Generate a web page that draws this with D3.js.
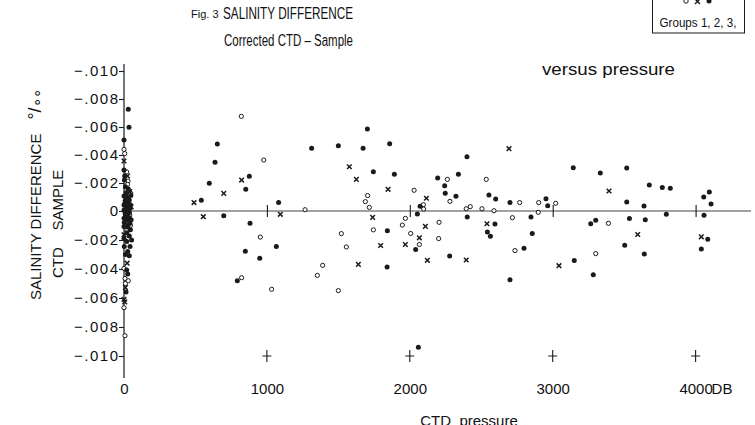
<!DOCTYPE html>
<html><head><meta charset="utf-8">
<script src="https://cdn.jsdelivr.net/npm/d3@7"></script>
<style>
body{margin:0;background:#fff;}
svg{display:block;}
text{font-family:"Liberation Sans Narrow","Liberation Sans",Arial,sans-serif;fill:#111;}
</style></head>
<body>
<svg id="c" width="755" height="425"></svg>
<script>
// ---- data (pressure in dbar, salinity difference in ‰ x1000, positive = upward on chart) ----
// Group 1: open circles
const g1Pressure = [821,978,1267,954,823,1033,1705,1689,1717,1745,1521,1556,1390,1353,1500,2030,2095,2097,1969,1948,2006,2067,2205,2202,2263,2281,2395,2423,2505,2535,2589,2769,2718,2736,2902,2899,3021,3390,3301,
  0,5,19,28,47,18,40,20,0,7,30,10,0,7,35,25,45];
const g1Diff = [6.76,3.64,0.09,-1.8,-4.6,-5.4,1.1,0.67,0.26,-1.3,-1.56,-2.48,-3.75,-4.44,-5.49,1.48,0.45,0.14,-0.51,-0.97,-1.55,-2.31,-0.78,-1.9,2.26,0.69,0.16,0.31,0.16,2.26,0.02,0.6,-0.46,-2.73,0.6,-0.09,0.55,-0.85,-2.94,
  4.4,4.1,2.79,2.14,1.26,0.6,-0.3,-1.3,-3.96,-4.65,-4.81,-5.0,-6.67,-8.6,-0.8,1.9,-1.0];
// Group 2: crosses
const g2Pressure = [823,698,490,555,1094,1577,1626,1740,1640,1848,1796,2116,2109,2067,1969,2123,2395,2540,2694,3044,3394,3595,4040,
  0,40,0,22,10,0,5,25,15,50];
const g2Diff = [2.21,1.26,0.6,-0.39,-0.23,3.16,2.26,-0.44,-3.68,1.55,-2.38,0.91,-1.06,-1.85,-2.31,-3.4,-3.38,-0.88,4.45,-3.77,1.43,-1.62,-1.78,
  3.57,1.38,-1.64,-3.6,-5.28,-6.1,-6.27,2.5,-0.2,0.3];
// Group 3: filled dots
const g3Pressure = [653,637,877,597,852,541,1082,698,882,1066,849,950,793,1313,1500,1673,1703,1745,1859,1892,1843,1841,2072,2053,2041,2279,2195,2244,2248,2323,2340,2400,2402,2554,2601,2596,2543,2564,2701,2848,2857,2799,2701,2953,2965,3144,3333,3518,3676,3767,3823,3518,3639,3795,3266,3301,3537,3648,3504,3641,3151,3284,4096,4057,4108,4059,4085,4040,2060,
  30,35,0,0,3,10,30,0,23,8,37,0,19,42,0,12,30,5,28,45,8,22,38,0,19,42,0,30,10,35,50,37,53,19,2,42,26,37,19,26,14,15,5,20,45,10,25,0,15,48,2];
const g3Diff = [4.79,3.48,2.48,1.98,1.55,0.76,0.6,-0.32,-0.85,-2.45,-2.78,-3.26,-4.81,4.48,4.66,4.48,5.86,2.81,4.81,2.62,-1.37,-3.87,0.34,-0.21,-2.66,-3.1,2.36,1.81,1.26,1.05,2.62,3.88,-0.42,1.14,0.86,-0.9,-1.44,-1.74,0.6,-0.42,-1.55,-2.57,-4.74,0.88,0.38,3.09,2.71,3.07,1.86,1.67,1.62,0.64,0.36,-0.23,-0.88,-0.63,-0.51,-0.6,-2.36,-2.97,-3.42,-4.4,1.36,1.0,0.5,-0.3,-1.94,-2.62,-9.4,
  7.26,5.98,5.07,2.93,2.21,1.74,1.57,1.07,0.98,0.71,0.79,0.43,0.31,0.19,0.07,-0.05,0.0,0.5,0.55,0.45,-0.15,-0.2,-0.1,-0.5,-0.6,-0.85,-1.07,-0.95,-0.35,-0.45,-0.6,-1.72,-2.0,-2.1,-2.44,-2.44,-2.79,-3.09,-4.07,-4.35,-5.58,1.3,2.5,-1.5,-1.3,-3.0,-1.1,-1.9,0.9,1.1,-0.8];

const xTicks = [0,1000,2000,3000,4000];
const xTickLabels = ["0","1000","2000","3000","4000"];
const yTicks = [10,8,6,4,2,0,-2,-4,-6,-8,-10];
const yTickLabels = ["\u2212.010","\u2212.008","\u2212.006","\u2212.004","\u2212.002","0","\u2212.002","\u2212.004","\u2212.006","\u2212.008","\u2212.010"];
const crossMarks = [1000,2000,3000,4000];

// ---- scales ----
const svg = d3.select("#c");
const x = d3.scaleLinear().domain([0,4000]).range([124,695.6]);
const y = d3.scaleLinear().domain([10,0,-10]).range([71,211,356]);
const ink = "#1a1a1a";
const sans = "'Liberation Sans',Arial,sans-serif";

// titles
svg.append("text").attr("x",191).attr("y",18).attr("font-size",11).text("Fig. 3");
svg.append("text").attr("x",223).attr("y",19).attr("font-size",17)
  .attr("textLength",130).attr("lengthAdjust","spacingAndGlyphs").text("SALINITY  DIFFERENCE");
svg.append("text").attr("x",224).attr("y",46).attr("font-size",16)
  .attr("textLength",129).attr("lengthAdjust","spacingAndGlyphs").text("Corrected  CTD  \u2013  Sample");
svg.append("text").attr("x",542).attr("y",75).attr("font-size",17)
  .attr("textLength",133).attr("lengthAdjust","spacingAndGlyphs")
  .style("font-family",sans).text("versus  pressure");

// legend box
svg.append("rect").attr("x",652.5).attr("y",-2).attr("width",92).attr("height",35)
  .attr("fill","none").attr("stroke",ink).attr("stroke-width",1);
svg.append("circle").attr("cx",686).attr("cy",1).attr("r",2.2).attr("fill","none").attr("stroke",ink);
svg.append("path").attr("d","M695,-1L700,4M700,-1L695,4").attr("stroke",ink).attr("stroke-width",1.4);
svg.append("circle").attr("cx",709).attr("cy",1).attr("r",2.5).attr("fill",ink);
svg.append("text").attr("x",698).attr("y",27).attr("font-size",12).attr("text-anchor","middle")
  .attr("textLength",77).attr("lengthAdjust","spacingAndGlyphs").text("Groups 1, 2, 3,");

// y axis label
const yl = svg.append("text").attr("transform","translate(40.5,300) rotate(-90)").attr("font-size",15)
  .style("font-family",sans);
yl.append("tspan").text("SALINITY DIFFERENCE");
yl.append("tspan").attr("dx",14).attr("font-size",18).text("\u00b0/");
yl.append("tspan").attr("font-size",15).attr("dy",1).text("\u2218\u2218");
svg.append("text").attr("transform","translate(62.5,278) rotate(-90)").attr("font-size",15)
  .style("font-family",sans).attr("xml:space","preserve").text("CTD    SAMPLE");

// y axis
const ya = svg.append("g").attr("transform","translate(124,0)")
  .call(d3.axisLeft(y).tickValues(yTicks).tickSize(5).tickSizeOuter(0).tickPadding(1)
    .tickFormat((d,i)=>yTickLabels[i]));
ya.select(".domain").remove();
ya.selectAll("line").attr("stroke",ink).attr("stroke-width",1.1);
ya.selectAll("text").attr("font-size",15).style("font-family",sans).attr("fill",ink)
  .each(function(d){ if(d!==0) d3.select(this).attr("textLength",44).attr("lengthAdjust","spacing"); });
svg.append("line").attr("x1",124).attr("x2",124).attr("y1",64).attr("y2",378)
  .attr("stroke",ink).attr("stroke-width",1.2);

// zero line and x axis
svg.append("line").attr("x1",124).attr("x2",751).attr("y1",y(0)).attr("y2",y(0))
  .attr("stroke","#444").attr("stroke-width",1.2);
const labelBase = y(-10)+38;
const xa = svg.append("g").attr("transform",`translate(0,${y(0)})`)
  .call(d3.axisBottom(x).tickValues(xTicks).tickSize(6).tickSizeOuter(0)
    .tickFormat((d,i)=>xTickLabels[i]));
xa.select(".domain").remove();
xa.selectAll(".tick line").attr("y1",-6).attr("stroke",ink).attr("stroke-width",1.1)
  .attr("opacity",d=>d===0?0:1);
xa.selectAll(".tick text").attr("y",labelBase-y(0)).attr("dy",0).attr("font-size",15)
  .style("font-family",sans).attr("fill",ink);
svg.append("text").attr("x",x(4000)+16).attr("y",labelBase).attr("font-size",15)
  .style("font-family",sans).text("DB");
svg.append("text").attr("x",469).attr("y",426).attr("font-size",15).attr("text-anchor","middle")
  .style("font-family",sans).attr("xml:space","preserve").text("CTD  pressure");

// + marks at -.010 level
svg.append("g").selectAll("path").data(crossMarks).join("path")
  .attr("d",d=>`M${x(d)-4.5},${y(-10)}h9M${x(d)},${y(-10)-6}v12`)
  .attr("stroke",ink).attr("stroke-width",1.1).attr("fill","none");

// ---- points ----
const g1 = g1Pressure.map((p,i)=>({p,v:g1Diff[i]}));
const g2 = g2Pressure.map((p,i)=>({p,v:g2Diff[i]}));
const g3 = g3Pressure.map((p,i)=>({p,v:g3Diff[i]}));

svg.append("g").selectAll("circle").data(g1).join("circle")
  .attr("cx",d=>x(d.p)).attr("cy",d=>y(d.v)).attr("r",2.1)
  .attr("fill","#fff").attr("stroke",ink).attr("stroke-width",1);
svg.append("g").selectAll("path").data(g2).join("path")
  .attr("d",d=>{const cx=x(d.p),cy=y(d.v),s=2.3;return `M${cx-s},${cy-s}L${cx+s},${cy+s}M${cx+s},${cy-s}L${cx-s},${cy+s}`;})
  .attr("stroke",ink).attr("stroke-width",1.5);
svg.append("g").selectAll("circle").data(g3).join("circle")
  .attr("cx",d=>x(d.p)).attr("cy",d=>y(d.v)).attr("r",2.5).attr("fill",ink);
</script>
</body></html>
